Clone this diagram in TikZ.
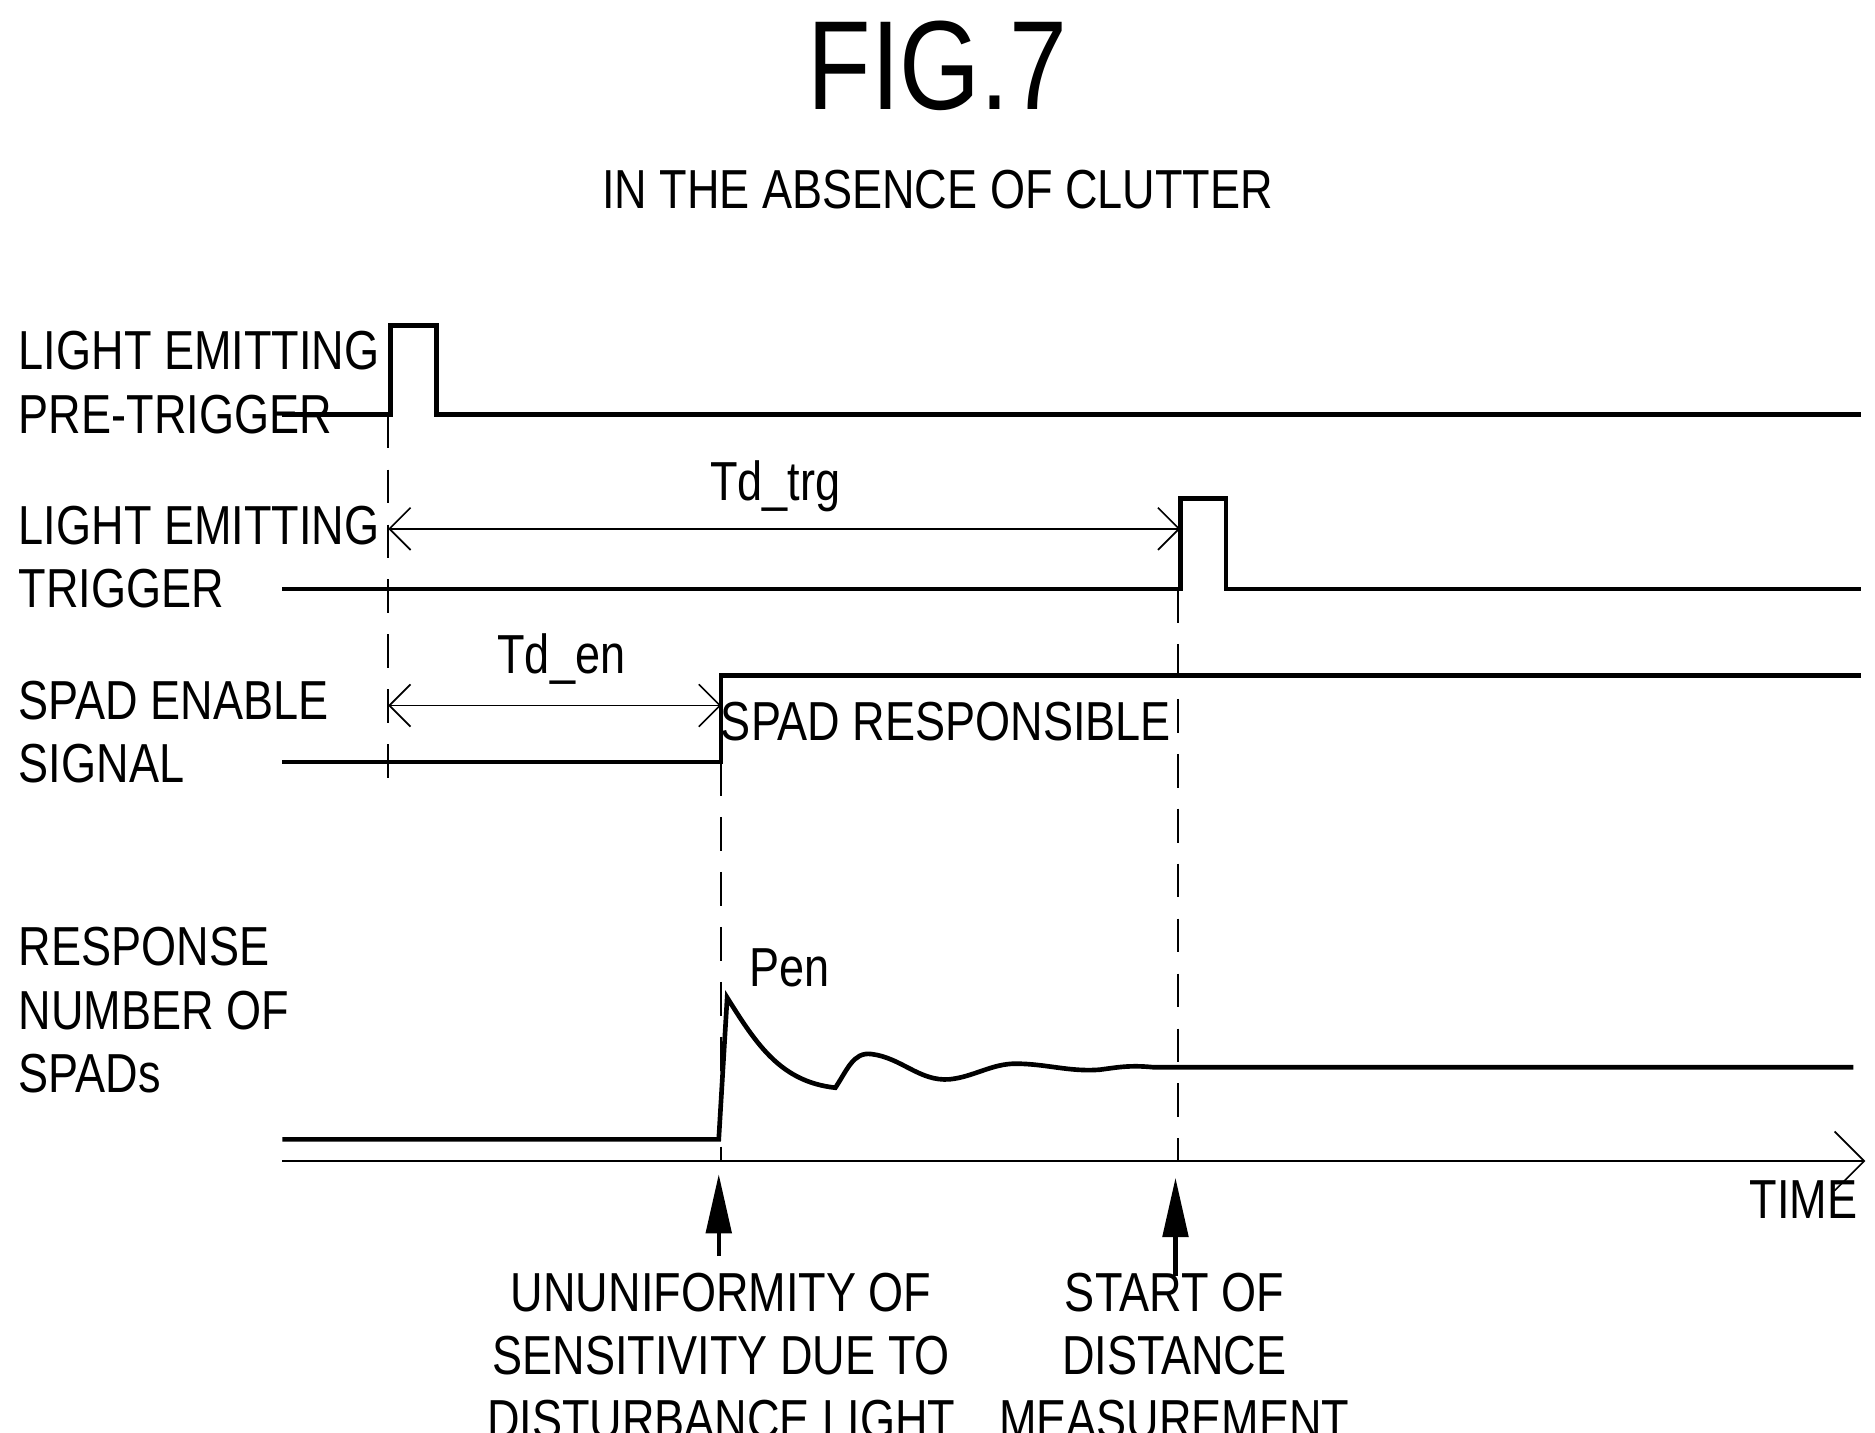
\documentclass[tikz,border=0pt]{standalone}
\usepackage{fontspec}
\setmainfont{Liberation Sans}[FakeStretch=0.82]
\usetikzlibrary{arrows.meta}
\begin{document}
\begin{tikzpicture}[x=0.01cm,y=-0.01cm,
    sig/.style={line width=1.1pt},
    guide/.style={thin,dash pattern=on 8pt off 5pt},
    lbl/.style={font=\fontsize{13}{15}\selectfont,align=left,anchor=north west,inner sep=0pt},
    txt/.style={font=\fontsize{13}{15}\selectfont,align=center,inner sep=0pt},
    dim/.style={thin,{Straight Barb[length=5pt]}-{Straight Barb[length=5pt]}},
    eventArrow/.style={line width=1pt,-{Triangle[length=14pt,width=6pt]}}]
  \useasboundingbox (0,0) rectangle (1560,1192);

  % titles
  \node[txt,font=\fontsize{30}{32}\selectfont] (fig) at (780,55) {FIG.7};
  \node[txt] (sub) at (780,158) {IN THE ABSENCE OF CLUTTER};

  % row labels
  \node[lbl] (preLbl) at (15,275) {LIGHT EMITTING\\PRE-TRIGGER};
  \node[lbl] (trgLbl) at (15,420) {LIGHT EMITTING\\TRIGGER};
  \node[lbl] (enLbl)  at (15,566) {SPAD ENABLE\\SIGNAL};
  \node[lbl] (resLbl) at (15,771) {RESPONSE\\NUMBER OF\\SPADs};

  % waveforms
  \draw[sig] (235,345) -- (325,345) -- (325,271) -- (363,271) -- (363,345) -- (1548,345);
  \draw[sig] (235,490) -- (982,490) -- (982,415) -- (1020,415) -- (1020,490) -- (1548,490);
  \draw[sig] (235,634) -- (600,634) -- (600,562) -- (1548,562);
  \draw[sig] (235,948) -- (598,948) -- (605,830)
    .. controls (630,870) and (650,900) .. (695,905)
    .. controls (705,890) and (710,875) .. (725,877)
    .. controls (750,880) and (765,900) .. (790,898)
    .. controls (810,896) and (825,885) .. (845,885)
    .. controls (870,885) and (890,892) .. (915,890)
    .. controls (930,888) and (940,886) .. (960,888)
    -- (1542,888);

  % time axis
  \coordinate (t0) at (235,966);
  \coordinate (t1) at (1552,966);
  \draw[thin,-{Straight Barb[length=7pt]}] (t0) -- (t1);
  \node[txt,anchor=north east] (time) at (1546,982) {TIME};

  % guides
  \draw[guide] (323,345) -- (323,662);
  \draw[guide] (600,634) -- (600,966);
  \draw[guide] (980,490) -- (980,966);

  % delays
  \coordinate (trgA) at (323,440);
  \coordinate (trgB) at (982,440);
  \draw[dim] (trgA) -- (trgB);
  \node[txt] (tdTrg) at (645,405) {Td\_trg};
  \coordinate (enA) at (323,587);
  \coordinate (enB) at (600,587);
  \draw[dim] (enA) -- (enB);
  \node[txt] (tdEn) at (467,548) {Td\_en};
  \node[txt] (resp) at (787,600) {SPAD RESPONSIBLE};
  \node[txt] (pen) at (657,805) {Pen};

  % events
  \node[txt] (unif) at (600,1128) {UNUNIFORMITY OF\\SENSITIVITY DUE TO\\DISTURBANCE LIGHT};
  \node[txt] (start) at (977,1128) {START OF\\DISTANCE\\MEASUREMENT};
  \coordinate (unifTop) at (598,977);
  \coordinate (startTop) at (978,980);
  \draw[eventArrow] (598,1045) -- (unifTop);
  \draw[eventArrow] (978,1062) -- (startTop);
\end{tikzpicture}
\end{document}
